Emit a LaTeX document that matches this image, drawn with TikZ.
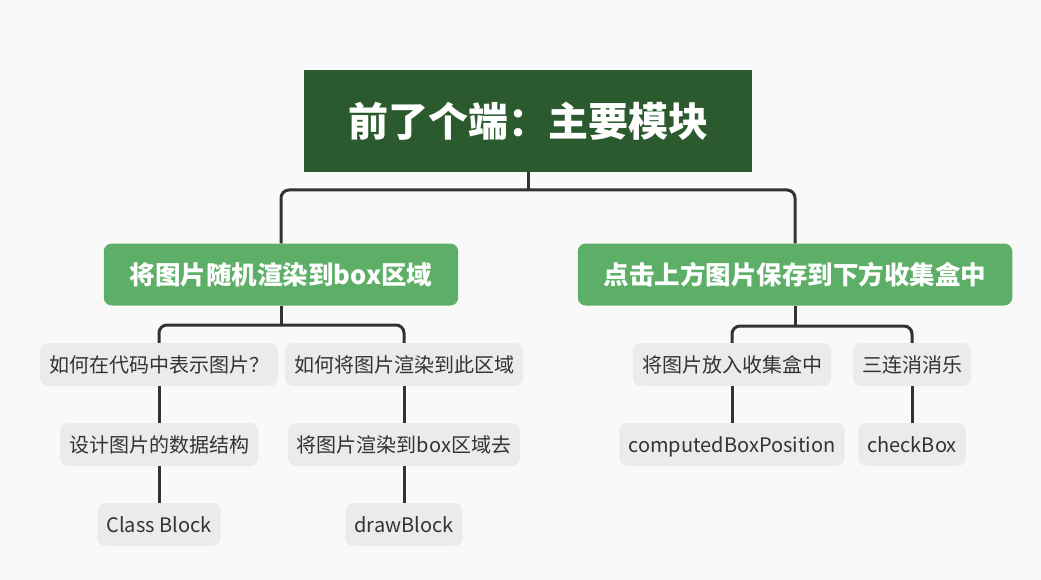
\documentclass[tikz,border=0pt]{standalone}
\usepackage{fontspec}
\setmainfont{Noto Sans CJK SC}
\definecolor{mmbg}{HTML}{F9F9F9}
\definecolor{mmroot}{HTML}{2C5A2F}
\definecolor{mmbranch}{HTML}{5DAF67}
\definecolor{mmleaf}{HTML}{EBEBEB}
\definecolor{mmline}{HTML}{333333}
\tikzset{
	mmnode/.style = {align=center, inner ysep=0pt, text centered},
	mm_root/.style = {mmnode, rectangle, fill=mmroot, text=white,
		font=\fontsize{40}{48}\selectfont\bfseries,
		text height=35.2pt, text depth=4.8pt,
		minimum height=102pt, inner xsep=44pt},% carte, noeud racine
	mm_branch/.style = {mmnode, rectangle, rounded corners=8pt, fill=mmbranch,
		text=white, font=\fontsize{25.5}{30}\selectfont\bfseries,
		text height=22.4pt, text depth=3.1pt,
		minimum height=62pt, inner xsep=26pt},% carte, branche
	mm_leaf/.style = {mmnode, rectangle, rounded corners=8pt, fill=mmleaf,
		text=mmline, font=\fontsize{20}{24}\selectfont,
		text height=17.6pt, text depth=2.4pt,
		minimum height=43pt, inner xsep=9pt},% carte, feuille
	mm_edge/.style = {draw=mmline, line width=3pt}
}
\begin{document}
\begin{tikzpicture}[x=1pt,y=-1pt]
		\fill[mmbg] (0,0) rectangle (1041,580);
		\node [mm_root] (root) at (528,121) {前了个端：主要模块};
		\node [mm_branch] (render) at (281,274.5) {将图片随机渲染到box区域};
		\node [mm_branch] (collect) at (795,274.5) {点击上方图片保存到下方收集盒中};
		\node [mm_leaf] (how) at (159,364.5) {如何在代码中表示图片？};
		\node [mm_leaf] (howdraw) at (404,364.5) {如何将图片渲染到此区域};
		\node [mm_leaf] (data) at (159,444.5) {设计图片的数据结构};
		\node [mm_leaf] (drawto) at (404,444.5) {将图片渲染到box区域去};
		\node [mm_leaf] (cls) at (159,524.5) {Class Block};
		\node [mm_leaf] (drawblk) at (404,524.5) {drawBlock};
		\node [mm_leaf] (put) at (732,364.5) {将图片放入收集盒中};
		\node [mm_leaf] (three) at (912,364.5) {三连消消乐};
		\node [mm_leaf] (pos) at (732,444.5) {computedBoxPosition};
		\node [mm_leaf] (check) at (912,444.5) {checkBox};
		
		\coordinate (j0) at (528,190);
		\coordinate (j1) at (281,325);
		\coordinate (j2) at (795,326);
		\draw [mm_edge] (root.south) -- (j0);
		\draw [mm_edge, rounded corners=8pt] (render.north) |- (j0) -| (collect.north);
		\draw [mm_edge] (render.south) -- (j1);
		\draw [mm_edge, rounded corners=8pt] (how.north) |- (j1) -| (howdraw.north);
		\draw [mm_edge] (collect.south) -- (j2);
		\draw [mm_edge, rounded corners=8pt] (put.north) |- (j2) -| (three.north);
		\draw [mm_edge] (how.south) -- (data.north);
		\draw [mm_edge] (data.south) -- (cls.north);
		\draw [mm_edge] (howdraw.south) -- (drawto.north);
		\draw [mm_edge] (drawto.south) -- (drawblk.north);
		\draw [mm_edge] (put.south) -- (pos.north);
		\draw [mm_edge] (three.south) -- (check.north);
\end{tikzpicture}
\end{document}
